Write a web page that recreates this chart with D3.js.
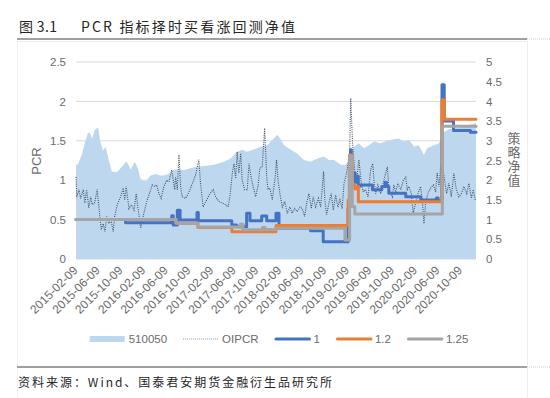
<!DOCTYPE html>
<html>
<head>
<meta charset="utf-8">
<script src="https://cdn.jsdelivr.net/npm/d3@7"></script>
<style>
  html, body { margin: 0; padding: 0; background: #fff; }
  svg { display: block; }
</style>
</head>
<body>
<svg id="chart" width="550" height="398"></svg>
<script>
// x-axis categories shown as labels (every 4 months)
const tickDates = ["2015-02-09","2015-06-09","2015-10-09","2016-02-09","2016-06-09","2016-10-09",
  "2017-02-09","2017-06-09","2017-10-09","2018-02-09","2018-06-09","2018-10-09","2019-02-09",
  "2019-06-09","2019-10-09","2020-02-09","2020-06-09","2020-10-09"];

// 510050 ETF price (right axis)
const etf510050 = [
  ["2015-02-09",2.38],["2015-02-20",2.42],["2015-03-13",2.65],["2015-03-29",2.95],["2015-04-14",3.20],
  ["2015-04-25",3.20],["2015-05-07",3.05],["2015-05-20",3.27],["2015-06-02",3.33],["2015-06-10",3.30],
  ["2015-06-18",3.02],["2015-07-04",2.75],["2015-07-18",2.85],["2015-08-05",2.50],["2015-08-21",2.22],
  ["2015-09-17",2.20],["2015-10-14",2.34],["2015-11-08",2.48],["2015-11-30",2.27],["2015-12-23",2.47],
  ["2016-01-08",2.30],["2016-01-23",2.02],["2016-02-18",1.97],["2016-03-17",2.12],["2016-04-13",2.16],
  ["2016-05-10",2.11],["2016-06-06",2.13],["2016-07-03",2.19],["2016-07-20",2.27],["2016-09-12",2.26],
  ["2016-11-05",2.33],["2016-12-28",2.36],["2017-02-20",2.39],["2017-04-15",2.47],["2017-05-21",2.55],
  ["2017-06-25",2.72],["2017-07-22",2.77],["2017-08-18",2.72],["2017-09-23",2.78],["2017-10-29",2.85],
  ["2017-12-04",2.89],["2017-12-31",3.02],["2018-01-26",3.15],["2018-02-05",3.10],["2018-03-04",2.89],
  ["2018-04-09",2.77],["2018-05-14",2.68],["2018-06-19",2.51],["2018-07-25",2.47],["2018-08-30",2.55],
  ["2018-10-05",2.60],["2018-11-01",2.51],["2018-11-28",2.51],["2019-01-03",2.39],["2019-01-30",2.39],
  ["2019-02-16",2.51],["2019-03-15",2.85],["2019-04-11",2.94],["2019-05-08",2.81],["2019-06-04",2.89],
  ["2019-07-01",2.98],["2019-08-06",2.94],["2019-09-10",3.00],["2019-10-16",3.04],["2019-11-12",3.06],
  ["2019-12-09",2.98],["2020-01-05",3.02],["2020-02-03",2.85],["2020-02-28",2.89],["2020-03-26",2.64],
  ["2020-04-12",2.81],["2020-05-10",2.87],["2020-06-15",2.94],["2020-07-11",3.22],["2020-08-07",3.30],
  ["2020-09-12",3.32],["2020-10-18",3.35],["2020-11-23",3.40],["2020-12-31",3.45]
];

// OIPCR (left axis)
const oipcr = [
  ["2015-02-09",1.04],["2015-02-13",0.79],["2015-02-25",0.88],["2015-03-06",0.77],["2015-03-20",0.88],
  ["2015-03-29",0.71],["2015-04-07",0.88],["2015-04-19",0.65],["2015-04-29",0.79],["2015-05-07",0.69],
  ["2015-05-20",0.71],["2015-06-03",0.88],["2015-06-12",0.66],["2015-06-25",0.37],["2015-07-05",0.45],
  ["2015-07-15",0.35],["2015-07-24",0.54],["2015-08-05",0.45],["2015-08-17",0.49],["2015-08-28",0.35],
  ["2015-09-05",0.54],["2015-09-19",0.69],["2015-10-07",0.79],["2015-10-21",0.90],["2015-10-29",0.75],
  ["2015-11-06",0.92],["2015-11-21",0.64],["2015-12-04",0.69],["2015-12-18",0.62],["2015-12-30",0.83],
  ["2016-01-10",0.62],["2016-01-23",0.39],["2016-02-09",0.58],["2016-02-27",0.75],["2016-03-13",0.85],
  ["2016-03-25",0.94],["2016-04-07",0.92],["2016-04-18",0.94],["2016-04-30",0.83],["2016-05-12",0.77],
  ["2016-05-27",0.92],["2016-06-11",1.00],["2016-06-23",0.98],["2016-07-08",1.13],["2016-07-16",1.00],
  ["2016-07-24",0.88],["2016-07-29",1.04],["2016-08-07",0.88],["2016-08-16",1.32],["2016-08-25",0.92],
  ["2016-09-02",0.79],["2016-09-21",0.77],["2016-10-09",0.85],["2016-10-27",0.96],["2016-11-14",1.07],
  ["2016-12-01",1.26],["2016-12-10",0.96],["2016-12-24",0.66],["2017-01-12",0.75],["2017-01-30",0.83],
  ["2017-02-16",0.88],["2017-03-01",0.79],["2017-03-19",0.73],["2017-04-05",0.71],["2017-04-24",0.69],
  ["2017-05-07",0.66],["2017-05-17",0.79],["2017-05-30",1.09],["2017-06-08",1.21],["2017-06-17",1.02],
  ["2017-06-25",1.36],["2017-07-04",1.09],["2017-07-14",1.34],["2017-07-22",1.00],["2017-08-04",0.88],
  ["2017-08-18",0.88],["2017-08-28",1.21],["2017-09-09",1.02],["2017-09-19",0.92],["2017-10-02",0.79],
  ["2017-10-15",0.92],["2017-10-25",1.15],["2017-11-07",1.17],["2017-11-20",1.66],["2017-12-01",1.04],
  ["2017-12-08",0.88],["2017-12-18",0.90],["2017-12-31",0.75],["2018-01-09",0.92],["2018-01-16",1.04],
  ["2018-01-23",1.26],["2018-01-31",1.00],["2018-02-10",0.83],["2018-02-23",0.66],["2018-03-08",0.73],
  ["2018-03-22",0.58],["2018-04-05",0.66],["2018-04-17",0.58],["2018-04-30",0.64],["2018-05-14",0.60],
  ["2018-05-29",0.66],["2018-06-10",0.64],["2018-06-23",0.54],["2018-07-04",0.71],["2018-07-16",0.83],
  ["2018-07-29",0.64],["2018-08-08",0.79],["2018-08-21",0.66],["2018-09-05",0.77],["2018-09-17",0.66],
  ["2018-10-03",1.11],["2018-10-10",0.75],["2018-10-19",0.56],["2018-11-01",0.71],["2018-11-13",0.83],
  ["2018-11-24",0.62],["2018-12-07",0.81],["2018-12-19",0.66],["2018-12-30",0.75],["2019-01-11",0.64],
  ["2019-01-21",0.96],["2019-01-30",1.04],["2019-02-07",1.13],["2019-02-20",1.34],["2019-02-26",2.04],
  ["2019-03-08",1.47],["2019-03-19",1.13],["2019-03-30",1.00],["2019-04-11",1.26],["2019-04-24",0.96],
  ["2019-05-05",0.85],["2019-05-17",0.88],["2019-05-30",0.79],["2019-06-13",1.13],["2019-06-24",1.21],
  ["2019-07-01",1.00],["2019-07-10",0.83],["2019-07-22",0.94],["2019-08-06",0.83],["2019-08-20",0.96],
  ["2019-09-02",1.09],["2019-09-11",1.17],["2019-09-20",0.88],["2019-10-08",0.79],["2019-10-16",0.94],
  ["2019-10-26",0.85],["2019-11-07",0.96],["2019-11-22",0.88],["2019-12-06",1.00],["2019-12-19",1.04],
  ["2019-12-27",0.88],["2020-01-05",0.92],["2020-01-18",0.83],["2020-01-28",0.58],["2020-02-10",0.71],
  ["2020-02-23",0.83],["2020-03-08",0.92],["2020-03-17",0.75],["2020-03-26",0.45],["2020-04-04",0.71],
  ["2020-04-16",0.83],["2020-05-01",0.90],["2020-05-15",0.94],["2020-05-28",0.85],["2020-06-05",1.09],
  ["2020-06-15",0.92],["2020-06-24",1.17],["2020-07-02",1.21],["2020-07-15",1.00],["2020-07-26",0.83],
  ["2020-08-07",0.96],["2020-08-20",0.79],["2020-09-03",1.09],["2020-09-16",0.88],["2020-09-30",0.79],
  ["2020-10-13",0.83],["2020-10-27",0.92],["2020-11-11",0.83],["2020-11-23",0.96],["2020-12-06",0.77],
  ["2020-12-16",0.88],["2020-12-27",0.75]
];

// strategy net value, threshold 1 (right axis, step changes)
const nav1 = [
  ["2015-02-09",1.00],["2015-11-03",0.92],["2016-07-08",1.10],["2016-07-16",0.86],["2016-08-07",1.24],
  ["2016-08-22",0.99],["2016-11-21",1.18],["2016-11-28",0.97],["2017-05-27",0.86],["2017-06-22",0.82],
  ["2017-08-15",1.16],["2017-09-02",0.97],["2017-11-04",1.09],["2017-12-01",0.97],["2018-01-20",1.16],
  ["2018-02-05",0.78],["2018-07-25",0.72],["2018-10-01",0.44],["2019-02-12",1.30],["2019-02-19",2.20],
  ["2019-02-25",2.77],["2019-03-01",2.15],["2019-03-08",2.00],["2019-03-15",2.18],["2019-03-22",1.95],
  ["2019-03-29",2.10],["2019-04-08",1.85],["2019-04-20",1.88],["2019-06-23",1.76],["2019-08-12",1.84],
  ["2019-08-30",1.95],["2019-09-06",1.84],["2019-09-19",1.67],["2019-12-19",1.58],["2020-03-09",1.50],
  ["2020-06-01",1.55],["2020-06-10",1.47],["2020-07-01",4.42],["2020-07-13",3.50],["2020-09-01",3.26],
  ["2020-12-01",3.22],["2020-12-31",3.22]
];

// threshold 1.2
const nav12 = [
  ["2015-02-09",1.00],["2016-08-01",0.91],["2016-11-26",0.80],["2017-05-28",0.69],["2018-01-20",0.85],
  ["2019-02-12",1.50],["2019-02-19",2.64],["2019-03-06",1.88],["2019-03-20",1.78],["2019-03-27",1.84],
  ["2019-04-08",1.45],["2020-07-01",4.04],["2020-07-13",3.55],["2020-12-31",3.55]
];

// threshold 1.25
const nav125 = [
  ["2015-02-09",1.00],["2016-08-01",0.91],["2016-11-26",0.81],["2017-07-12",0.88],["2017-07-26",0.74],
  ["2017-11-08",0.80],["2017-11-22",0.75],["2018-01-20",0.78],["2019-01-26",0.48],["2019-02-20",2.62],
  ["2019-03-06",1.33],["2019-03-20",1.14],["2020-07-03",3.37],["2020-12-31",3.36]
];

const legendNames = ["510050", "OIPCR", "1", "1.2", "1.25"];
const leftTicks = [0, 0.5, 1, 1.5, 2, 2.5];
const rightTicks = [0, 0.5, 1, 1.5, 2, 2.5, 3, 3.5, 4, 4.5, 5];

const parse = d3.timeParse("%Y-%m-%d");
const fmt = d3.timeFormat("%Y-%m-%d");
const LABEL = "#6b6b6b";
const FONT = "'Liberation Sans', Arial, sans-serif";
const CJK = "'Noto Sans CJK SC', sans-serif";

const svg = d3.select("#chart");

// frame, title rule and footer rule
svg.append("rect").attr("x", 17.5).attr("y", 41.5).attr("width", 510).attr("height", 360)
  .attr("fill", "none").attr("stroke", "#eeeeee");
[39, 367].forEach(y => {
  svg.append("line").attr("x1", 17).attr("x2", 527).attr("y1", y).attr("y2", y)
    .attr("stroke", "#808080").attr("stroke-width", 1.6);
  svg.append("line").attr("x1", 527).attr("x2", 550).attr("y1", y).attr("y2", y)
    .attr("stroke", "#d0d0d0").attr("stroke-width", 1).attr("stroke-dasharray", "1 1");
});

svg.append("text").attr("x", 19).attr("y", 32).attr("font-family", CJK).attr("font-size", 14)
  .attr("fill", "#262626").attr("textLength", 38).attr("lengthAdjust", "spacing").text("图 3.1");
svg.append("text").attr("x", 81).attr("y", 32).attr("font-family", CJK).attr("font-size", 14)
  .attr("fill", "#262626").attr("textLength", 214).attr("lengthAdjust", "spacing")
  .text("PCR 指标择时买看涨回测净值");
svg.append("text").attr("x", 18).attr("y", 387).attr("font-family", CJK).attr("font-size", 12)
  .attr("fill", "#262626").attr("textLength", 314).attr("lengthAdjust", "spacing")
  .text("资料来源：Wind、国泰君安期货金融衍生品研究所");

// scales
const x = d3.scaleTime().domain([parse("2015-02-09"), parse("2020-12-31")]).range([76, 476]);
const yL = d3.scaleLinear().domain([0, 2.5]).range([259, 62]);
const yR = d3.scaleLinear().domain([0, 5]).range([259, 62]);

// gridlines
svg.append("g").selectAll("line").data(leftTicks).join("line")
  .attr("x1", 76).attr("x2", 476)
  .attr("y1", d => yL(d)).attr("y2", d => yL(d))
  .attr("stroke", "#d9d9d9").attr("stroke-width", 1);

// 510050 area
const area = d3.area()
  .x(d => x(parse(d[0])))
  .y0(yR(0))
  .y1(d => yR(d[1]));
svg.append("path").datum(etf510050).attr("d", area).attr("fill", "#bdd7ee");

// OIPCR dotted line
const lineL = d3.line().x(d => x(parse(d[0]))).y(d => yL(d[1]));
svg.append("path").datum(oipcr).attr("d", lineL)
  .attr("fill", "none").attr("stroke", "#44546a").attr("stroke-width", 1.1)
  .attr("stroke-dasharray", "1 1.2");

// strategy net values
const stepR = d3.line().curve(d3.curveStepAfter).x(d => x(parse(d[0]))).y(d => yR(d[1]));
const navSeries = [
  { data: nav1, color: "#4472c4" },
  { data: nav12, color: "#ed7d31" },
  { data: nav125, color: "#a5a5a5" }
];
navSeries.forEach(s => {
  svg.append("path").datum(s.data).attr("d", stepR)
    .attr("fill", "none").attr("stroke", s.color).attr("stroke-width", 3)
    .attr("stroke-linejoin", "round").attr("stroke-linecap", "round");
});

// axes
const gL = svg.append("g").attr("transform", "translate(76,0)")
  .call(d3.axisLeft(yL).tickValues(leftTicks).tickSize(0).tickPadding(10).tickFormat(d3.format("~g")));
const gR = svg.append("g").attr("transform", "translate(476,0)")
  .call(d3.axisRight(yR).tickValues(rightTicks).tickSize(0).tickPadding(10).tickFormat(d3.format("~g")));
const gB = svg.append("g").attr("transform", "translate(0,259)")
  .call(d3.axisBottom(x).tickValues(tickDates.map(parse)).tickSize(0).tickFormat(fmt));

[gL, gR, gB].forEach(g => {
  g.select(".domain").remove();
  g.selectAll("text").attr("fill", LABEL).attr("font-family", FONT).attr("font-size", 11.5);
});
gB.selectAll("text")
  .attr("font-size", 12)
  .attr("x", 0).attr("y", 0).attr("dy", "0.35em")
  .attr("transform", "translate(-1,9) rotate(-45)")
  .attr("text-anchor", "end");

// axis titles
svg.append("text").attr("transform", "translate(41,161) rotate(-90)")
  .attr("text-anchor", "middle").attr("font-family", FONT).attr("font-size", 13)
  .attr("fill", LABEL).text("PCR");
svg.append("text").attr("x", 514).attr("y", 160)
  .attr("font-family", CJK).attr("font-size", 13).attr("fill", LABEL)
  .attr("text-anchor", "middle")
  .style("writing-mode", "vertical-rl").style("letter-spacing", "1px")
  .text("策略净值");

// legend
const legend = svg.append("g").attr("font-family", FONT).attr("font-size", 11.5).attr("fill", LABEL);
const items = legend.selectAll("g").data(legendNames).join("g");
items.append("text").attr("x", 39).attr("y", 339).attr("dy", "0.35em").text(d => d);
items.each(function (d, i) {
  const g = d3.select(this);
  if (i === 0) {
    g.insert("rect", "text").attr("x", 0).attr("y", 336).attr("width", 35).attr("height", 6).attr("fill", "#bdd7ee");
  } else if (i === 1) {
    g.insert("line", "text").attr("x1", 0).attr("x2", 35).attr("y1", 339).attr("y2", 339)
      .attr("stroke", "#8497b0").attr("stroke-width", 1).attr("stroke-dasharray", "1 1");
  } else {
    g.insert("line", "text").attr("x1", 1.5).attr("x2", 35).attr("y1", 339).attr("y2", 339)
      .attr("stroke", navSeries[i - 2].color).attr("stroke-width", 3).attr("stroke-linecap", "round");
  }
});
let widths = [];
items.select("text").each(function () { widths.push(39 + this.getComputedTextLength()); });
const gap = 16;
const total = d3.sum(widths) + gap * (widths.length - 1);
let cursor = 279 - total / 2;
items.attr("transform", (d, i) => {
  const t = `translate(${cursor},0)`;
  cursor += widths[i] + gap;
  return t;
});
</script>
</body>
</html>
